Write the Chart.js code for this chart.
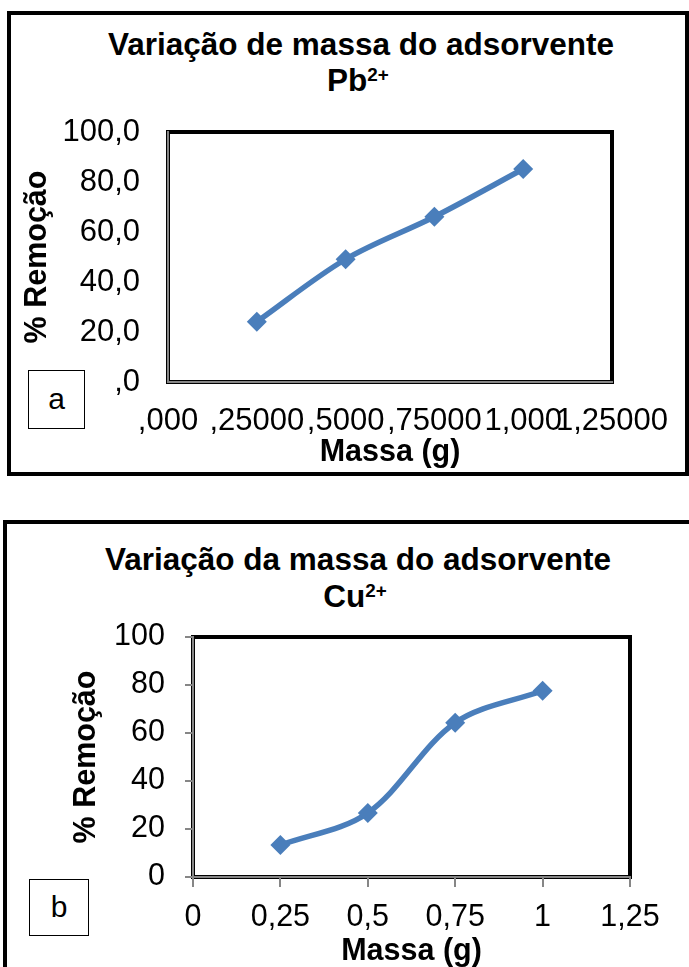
<!DOCTYPE html>
<html lang="pt-BR">
<head>
<meta charset="utf-8">
<title>Variação da massa do adsorvente – Pb²⁺ e Cu²⁺</title>
<script src="https://cdn.jsdelivr.net/npm/chart.js@4.4.1/dist/chart.umd.min.js"></script>
<style>
  html, body { margin: 0; padding: 0; background: #fff; }
  body { width: 689px; height: 967px; position: relative; overflow: hidden;
         font-family: "Liberation Sans", Arial, sans-serif; color: #000; }
  .panel { position: absolute; box-sizing: border-box; }
  #panelA { left: 7px; top: 11px; width: 682px; height: 465px; border: 4px solid #000; }
  #panelB { left: 3px; top: 520px; width: 700px; height: 460px; border-top: 4px solid #000; border-left: 4px solid #000; }
  .title { position: absolute; text-align: center; font-weight: bold; font-size: 31.5px;
           line-height: 36px; white-space: nowrap; }
  .title sup { font-size: 0.6em; vertical-align: baseline; position: relative; top: -0.55em; line-height: 0; }
  .tag { position: absolute; box-sizing: border-box; border: 1px solid #000; background: #fff;
         font-size: 30px; text-align: center; }
  canvas { position: absolute; }
</style>
</head>
<body>
<div class="panel" id="panelA"></div>
<div class="panel" id="panelB"></div>

<div class="title" style="left:108px; width:500px; top:26px;">Variação de massa do adsorvente<br>Pb<sup>2+</sup></div>
<div class="title" style="left:105px; width:500px; top:541px; line-height:37px;">Variação da massa do adsorvente<br>Cu<sup>2+</sup></div>

<canvas id="chartA" width="670" height="368" style="left:12px; top:100px;"></canvas>
<canvas id="chartB" width="681" height="367" style="left:8px; top:600px;"></canvas>

<div class="tag" style="left:28px; top:370px; width:57px; height:59px; line-height:55px;">a</div>
<div class="tag" style="left:29px; top:879px; width:60px; height:57px; line-height:53px;">b</div>

<script>
// Mass of adsorbent (g)
const massA = [0.25, 0.5, 0.75, 1.0];
const massB = [0.25, 0.5, 0.75, 1.0];

// % removal
const removalPb = [24.1, 49.1, 66.1, 85.2];
const removalCu = [13.3, 26.7, 64.3, 77.6];

// Tick labels as printed on each axis
const xTicksA = [",000", ",25000", ",5000", ",75000", "1,000", "1,25000"];
const yTicksA = [",0", "20,0", "40,0", "60,0", "80,0", "100,0"];
const xTicksB = ["0", "0,25", "0,5", "0,75", "1", "1,25"];
const yTicksB = ["0", "20", "40", "60", "80", "100"];

const FONT = "'Liberation Sans', Arial, sans-serif";
const LINE_BLUE = "#4A7EBB";
const AXIS_GREY = "#868686";

// Thick black frame around the plot area, drawn beneath the axis lines
const plotFrame = {
  id: "plotFrame",
  beforeDraw(chart) {
    const { ctx, chartArea: a } = chart;
    ctx.save();
    ctx.strokeStyle = "#000";
    ctx.lineWidth = 4;
    ctx.strokeRect(a.left, a.top, a.right - a.left, a.bottom - a.top);
    ctx.restore();
  }
};

// Fixed scale box sizes; label overhang is left to the layout padding
function fixBox(prop, size) {
  return s => {
    s[prop] = size;
    s.paddingTop = s.paddingBottom = s.paddingLeft = s.paddingRight = 0;
  };
}

function makeChart(id, xs, ys, xLabels, yLabels, geo) {
  const points = xs.map((x, i) => ({ x, y: ys[i] }));
  return new Chart(document.getElementById(id), {
    type: "line",
    data: {
      datasets: [{
        data: points,
        borderColor: LINE_BLUE,
        backgroundColor: LINE_BLUE,
        borderWidth: 5.5,
        tension: 0.33,
        pointStyle: "rectRot",
        pointRadius: 10,
        pointBorderWidth: 0,
        pointBackgroundColor: LINE_BLUE,
        fill: false
      }]
    },
    options: {
      responsive: false,
      animation: false,
      devicePixelRatio: 1,
      layout: { padding: { left: 0, top: geo.padTop, right: geo.padRight, bottom: 0 } },
      plugins: { legend: { display: false }, tooltip: { enabled: false }, title: { display: false } },
      scales: {
        x: {
          type: "linear",
          min: 0, max: 1.25,
          afterFit: fixBox("height", geo.xHeight),
          afterBuildTicks: s => { s.ticks = xLabels.map((_, i) => ({ value: i * 0.25 })); },
          ticks: {
            autoSkip: false, maxRotation: 0, minRotation: 0,
            padding: geo.xPad, color: "#000",
            font: { family: FONT, size: geo.tickSize },
            callback: (v, i) => xLabels[i]
          },
          grid: geo.tickMarks
            ? { drawOnChartArea: false, drawTicks: true, tickLength: 10, color: AXIS_GREY, lineWidth: 2 }
            : { display: false, drawTicks: false },
          border: { display: true, color: AXIS_GREY, width: 2 },
          title: {
            display: true, text: "Massa (g)", color: "#000",
            font: { family: FONT, size: 30.5, weight: "bold", lineHeight: 1 },
            padding: { top: 0, bottom: 0 }
          }
        },
        y: {
          type: "linear",
          min: 0, max: 100,
          afterFit: fixBox("width", geo.yWidth),
          afterBuildTicks: s => { s.ticks = yLabels.map((_, i) => ({ value: i * 20 })); },
          ticks: {
            padding: geo.yPad, color: "#000",
            font: { family: FONT, size: geo.tickSize },
            callback: (v, i) => yLabels[i]
          },
          grid: geo.tickMarks
            ? { drawOnChartArea: false, drawTicks: true, tickLength: 8, color: AXIS_GREY, lineWidth: 2 }
            : { display: false, drawTicks: false },
          border: { display: true, color: AXIS_GREY, width: 2 },
          title: {
            display: true, text: "% Remoção", color: "#000",
            font: { family: FONT, size: 30.5, weight: "bold", lineHeight: 1 },
            padding: { top: geo.yTitlePad, bottom: 0 }
          }
        }
      }
    },
    plugins: [plotFrame]
  });
}

makeChart("chartA", massA, removalPb, xTicksA, yTicksA,
  { padTop: 32, padRight: 70, xHeight: 86, yWidth: 156, xPad: 21, yPad: 28, yTitlePad: 10, tickSize: 31, tickMarks: false });
makeChart("chartB", massB, removalCu, xTicksB, yTicksB,
  { padTop: 37, padRight: 59, xHeight: 90, yWidth: 185, xPad: 12, yPad: 20, yTitlePad: 63, tickSize: 30.5, tickMarks: true });
</script>
</body>
</html>
